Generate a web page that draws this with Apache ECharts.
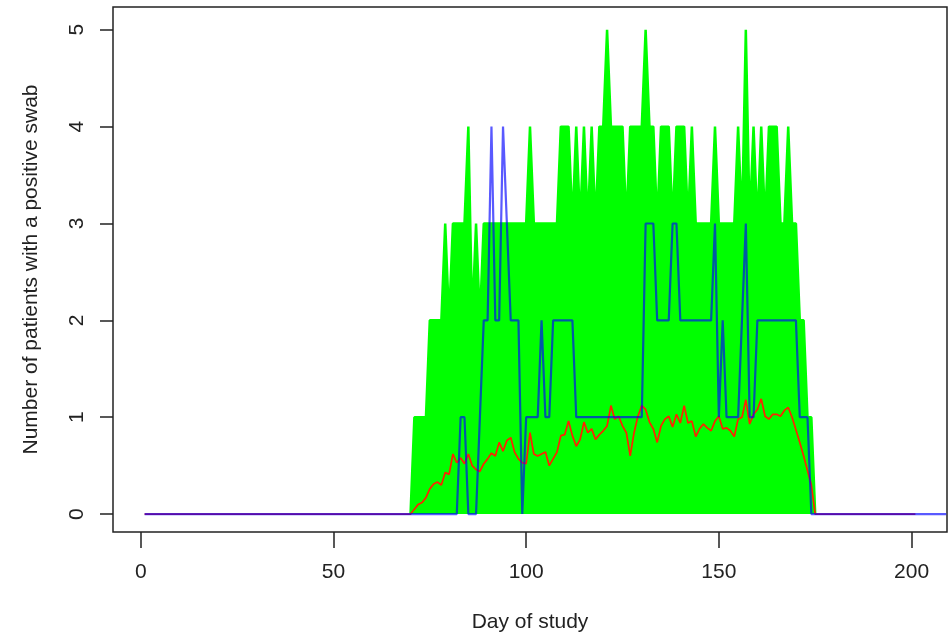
<!DOCTYPE html>
<html>
<head>
<meta charset="utf-8">
<script src="https://cdn.jsdelivr.net/npm/echarts@6/dist/echarts.min.js"></script>
<style>
  html, body { margin: 0; padding: 0; background: #fff; }
  #chart { width: 949px; height: 638px; }
</style>
</head>
<body>
<div id="chart"></div>
<script>
// days 70..175 are the active window, everything outside is flat at 0
const firstDay = 70
const redSpan = [1, 201]
const blueSpan = [1, 209]
const xTicks = [0, 50, 100, 150, 200]
const yTicks = [0, 1, 2, 3, 4, 5]

// highest simulated count per day (green band)
const simMax = [
  0, 1, 1, 1, 1, 2, 2, 2, 2, 3,   // 70-79
  2, 3, 3, 3, 3, 4, 2, 3, 2, 3,   // 80-89
  3, 3, 3, 3, 3, 3, 3, 3, 3, 3,   // 90-99
  3, 4, 3, 3, 3, 3, 3, 3, 3, 4,   // 100-109
  4, 4, 3, 4, 3, 4, 3, 4, 3, 4,   // 110-119
  4, 5, 4, 4, 4, 4, 3, 4, 4, 4,   // 120-129
  4, 5, 4, 4, 3, 4, 4, 4, 3, 4,   // 130-139
  4, 4, 3, 4, 3, 3, 3, 3, 3, 4,   // 140-149
  3, 3, 3, 3, 3, 4, 3, 5, 3, 4,   // 150-159
  3, 4, 3, 4, 4, 4, 3, 3, 4, 3,   // 160-169
  3, 2, 2, 1, 1, 0                // 170-175
]

// observed count (blue)
const observed = [
  0, 0, 0, 0, 0, 0, 0, 0, 0, 0,   // 70-79
  0, 0, 0, 1, 1, 0, 0, 0, 1, 2,   // 80-89
  2, 4, 2, 2, 4, 3, 2, 2, 2, 0,   // 90-99
  1, 1, 1, 1, 2, 1, 1, 2, 2, 2,   // 100-109
  2, 2, 2, 1, 1, 1, 1, 1, 1, 1,   // 110-119
  1, 1, 1, 1, 1, 1, 1, 1, 1, 1,   // 120-129
  1, 3, 3, 3, 2, 2, 2, 2, 3, 3,   // 130-139
  2, 2, 2, 2, 2, 2, 2, 2, 2, 3,   // 140-149
  1, 2, 1, 1, 1, 1, 2, 3, 1, 1,   // 150-159
  2, 2, 2, 2, 2, 2, 2, 2, 2, 2,   // 160-169
  2, 1, 1, 1, 0, 0                // 170-175
]

// mean of simulations (red)
const simMean = [
  0, 0.05, 0.1, 0.12, 0.17, 0.26, 0.31, 0.33, 0.3, 0.43,          // 70-79
  0.41, 0.62, 0.53, 0.58, 0.52, 0.62, 0.5, 0.46, 0.44, 0.52,      // 80-89
  0.57, 0.63, 0.6, 0.74, 0.65, 0.76, 0.79, 0.64, 0.57, 0.53,      // 90-99
  0.52, 0.84, 0.62, 0.6, 0.62, 0.64, 0.5, 0.57, 0.64, 0.81,       // 100-109
  0.82, 0.96, 0.81, 0.7, 0.77, 0.95, 0.84, 0.88, 0.77, 0.82,      // 110-119
  0.86, 0.91, 1.12, 0.98, 1.01, 0.91, 0.84, 0.6, 0.84, 1.01,      // 120-129
  1.12, 1.08, 0.95, 0.88, 0.74, 0.91, 0.98, 1.01, 0.9, 1.03,      // 130-139
  0.94, 1.12, 0.94, 0.96, 0.8, 0.88, 0.93, 0.89, 0.86, 0.96,      // 140-149
  1.01, 0.88, 0.89, 0.86, 0.8, 0.98, 1.0, 1.18, 0.93, 1.03,       // 150-159
  1.08, 1.19, 1.01, 0.98, 1.03, 1.03, 1.01, 1.07, 1.1, 1.0,       // 160-169
  0.87, 0.74, 0.6, 0.45, 0.3, 0                                   // 170-175
]

const toPairs = (vals) => vals.map((v, i) => [firstDay + i, v])
const withFlatEnds = (vals, span) =>
  [[span[0], 0]].concat(toPairs(vals), [[span[1], 0]])

const textColor = '#222'
const font = 'Liberation Sans, Arial, sans-serif'

const option = {
  animation: false,
  backgroundColor: '#fff',
  grid: {
    left: 113,
    right: 2,
    top: 7,
    bottom: 105,
    show: true,
    borderColor: '#222',
    borderWidth: 1.5
  },
  xAxis: {
    type: 'value',
    min: -7.2,
    max: 209.2,
    name: 'Day of study',
    nameLocation: 'middle',
    nameGap: 80,
    nameTextStyle: { color: textColor, fontSize: 21, fontFamily: font },
    axisLine: { show: false, onZero: false },
    splitLine: { show: false },
    axisTick: {
      show: true,
      customValues: xTicks,
      length: 16,
      lineStyle: { color: '#222', width: 1.5 }
    },
    axisLabel: {
      customValues: xTicks,
      margin: 30,
      color: textColor,
      fontSize: 21,
      fontFamily: font
    }
  },
  yAxis: {
    type: 'value',
    min: -0.185,
    max: 5.235,
    name: 'Number of patients with a positive swab',
    nameLocation: 'middle',
    nameGap: 71,
    nameTextStyle: { color: textColor, fontSize: 21, fontFamily: font },
    axisLine: { show: false, onZero: false },
    splitLine: { show: false },
    axisTick: {
      show: true,
      customValues: yTicks,
      length: 13,
      lineStyle: { color: '#222', width: 1.5 }
    },
    axisLabel: {
      customValues: yTicks,
      rotate: 90,
      margin: 25,
      color: textColor,
      fontSize: 21,
      fontFamily: font
    }
  },
  series: [
    {
      name: 'simulated max',
      type: 'line',
      data: toPairs(simMax),
      symbol: 'none',
      lineStyle: { color: '#00ff00', width: 2.5 },
      areaStyle: { color: '#00ff00', opacity: 1 },
      z: 1
    },
    {
      name: 'simulated mean',
      type: 'line',
      data: withFlatEnds(simMean, redSpan),
      symbol: 'none',
      lineStyle: { color: '#ff2200', width: 1.7 },
      z: 2
    },
    {
      name: 'observed',
      type: 'line',
      data: withFlatEnds(observed, blueSpan),
      symbol: 'none',
      lineStyle: { color: '#0000ff', width: 2.2, opacity: 0.65 },
      z: 3
    }
  ]
}

const myChart = echarts.init(document.getElementById('chart'))
myChart.setOption(option)
</script>
</body>
</html>
